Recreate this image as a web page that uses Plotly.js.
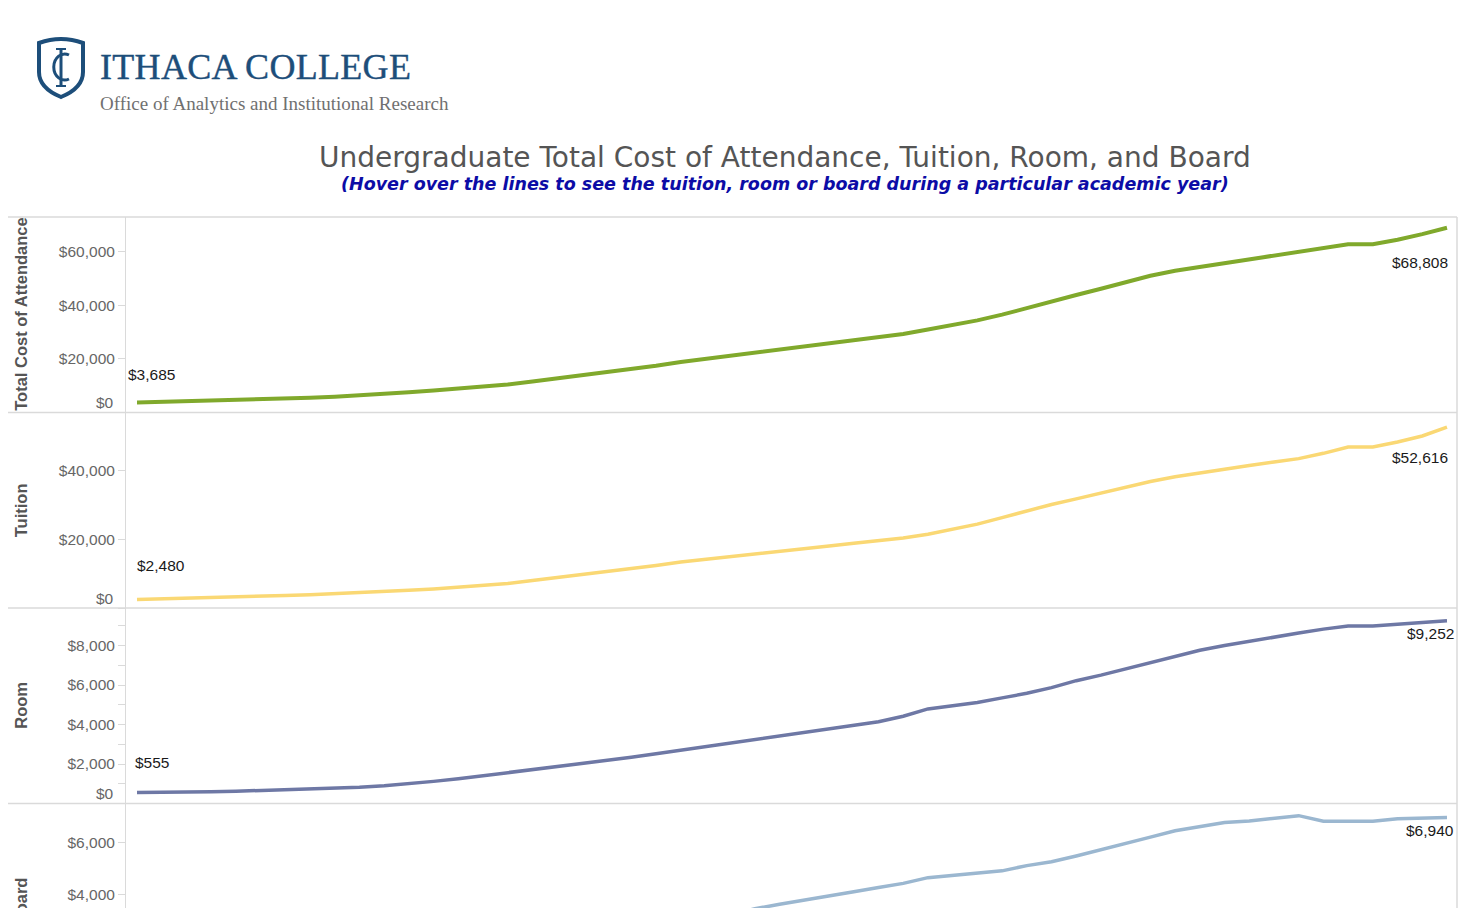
<!DOCTYPE html>
<html>
<head>
<meta charset="utf-8">
<script src="https://cdn.plot.ly/plotly-3.0.1.min.js"></script>
<style>
html, body { margin:0; padding:0; background:#fff; width:1472px; height:908px; overflow:hidden; }
#wrap { position:relative; width:1472px; height:908px; overflow:hidden; }
#chart { position:absolute; left:0; top:0; width:1472px; height:1000px; }
#logo { position:absolute; left:0; top:0; z-index:5; pointer-events:none; }
#logo .name { position:absolute; left:100px; top:46px; font-family:'Liberation Serif', 'DejaVu Serif', serif; font-size:36px; color:#1d4e7a; white-space:nowrap; letter-spacing:0.3px; -webkit-text-stroke:0.4px #1d4e7a; }
#logo .office { position:absolute; left:100px; top:93px; font-family:'Liberation Serif', 'DejaVu Serif', serif; font-size:19px; color:#707070; white-space:nowrap; }
</style>
</head>
<body>
<div id="wrap">
  <div id="chart"></div>
  <div id="logo">
    <svg width="54" height="64" viewBox="0 0 54 64" style="position:absolute;left:34px;top:36px">
      <path d="M5 7 Q27 -1 49 7 L49 36 Q49 52 27 61 Q5 52 5 36 Z" fill="#fff" stroke="#1d4e7a" stroke-width="4"/>
      <path d="M35 19 A11 13 0 1 0 35 43" fill="none" stroke="#1d4e7a" stroke-width="3"/>
      <line x1="27" y1="13" x2="27" y2="50" stroke="#1d4e7a" stroke-width="3"/>
      <line x1="22" y1="13" x2="32" y2="13" stroke="#1d4e7a" stroke-width="2"/>
      <line x1="22" y1="50" x2="32" y2="50" stroke="#1d4e7a" stroke-width="2"/>
    </svg>
    <div class="name">ITHACA COLLEGE</div>
    <div class="office">Office of Analytics and Institutional Research</div>
  </div>
</div>
<script>
'use strict';

// academic years (x categories)
const years = ['1971-72','1972-73','1973-74','1974-75','1975-76','1976-77','1977-78','1978-79','1979-80','1980-81',
  '1981-82','1982-83','1983-84','1984-85','1985-86','1986-87','1987-88','1988-89','1989-90','1990-91',
  '1991-92','1992-93','1993-94','1994-95','1995-96','1996-97','1997-98','1998-99','1999-00','2000-01',
  '2001-02','2002-03','2003-04','2004-05','2005-06','2006-07','2007-08','2008-09','2009-10','2010-11',
  '2011-12','2012-13','2013-14','2014-15','2015-16','2016-17','2017-18','2018-19','2019-20','2020-21',
  '2021-22','2022-23','2023-24','2024-25'];

const total = [3685,3900,4130,4360,4600,4880,5180,5520,5900,6330,
  6900,7500,8150,8850,9550,10390,11520,12650,13780,14900,
  16030,17390,18840,20000,21150,22310,23460,24610,25770,26920,
  28070,29230,30900,32600,34300,36430,38950,41420,43760,46070,
  48380,50940,52770,54220,55580,56980,58360,59730,61170,62670,
  62670,64350,66430,68808];

const tuition = [2480,2640,2810,2990,3190,3400,3630,3880,4150,4450,
  4780,5150,5550,6000,6480,7100,7980,8830,9680,10540,
  11370,12350,13380,14120,14860,15620,16420,17220,18040,18860,
  19670,20390,21470,22930,24400,26310,28210,30140,31750,33410,
  35240,36830,38210,39360,40440,41470,42500,43470,45020,46870,
  46870,48320,50060,52616];

const room = [555,560,590,590,620,660,690,720,760,820,
  900,1000,1120,1250,1400,1560,1720,1880,2040,2170,
  2340,2520,2700,2880,3060,3240,3420,3600,3780,3960,
  4140,4420,4790,4950,5110,5350,5580,5870,6220,6500,
  6820,7150,7480,7760,8000,8220,8410,8630,8830,8990,
  8990,9080,9170,9252];

const board = [650,700,730,760,800,850,900,960,1030,1100,
  1190,1280,1380,1480,1590,1700,1820,1940,2060,2190,
  2320,2520,2760,3000,3230,3450,3620,3790,3950,4100,
  4260,4420,4640,4720,4800,4900,5100,5250,5470,5720,
  5960,6190,6430,6580,6750,6810,6910,7010,6800,6800,
  6800,6890,6900,6940];

const panels = [
  {name:'Total Cost of Attendance', values:total, color:'#80a92c', width:4, ticks:[0,20000,40000,60000], range:[0,72800], minor:null, startShift:[-11,28], endShift:[3,-35]},
  {name:'Tuition', values:tuition, color:'#fad874', width:3.5, ticks:[0,20000,40000], range:[0,56900], minor:null, startShift:[-2,34], endShift:[3,-30]},
  {name:'Room', values:room, color:'#6e78a5', width:3.5, ticks:[0,2000,4000,6000,8000], range:[0,9900], minor:[1000,3000,5000,7000,9000], startShift:[-4,30], endShift:[9,-13]},
  {name:'Board', values:board, color:'#9bb7d0', width:3.5, ticks:[0,2000,4000,6000], range:[0,7475], minor:null, startShift:[-4,30], endShift:[9,-13]}
];

// plot area in pixels
const PL = 126, PW = 1331, PT = 217, PH = 782;
function fx(px){ return (px - PL) / PW; }
function fy(py){ return (PT + PH - py) / PH; }

function money(v){ return '$' + v.toLocaleString('en-US'); }

const gridc = '#dadada';
const traces = [];
const annotations = [];
const shapes = [];
const layout = {
  width: 1472, height: 1000,
  margin: {l: PL, r: 1472 - PL - PW, t: PT, b: 1000 - PT - PH, autoexpand: false},
  paper_bgcolor: '#fff', plot_bgcolor: '#fff',
  showlegend: false,
  font: {family: 'Liberation Sans, Arial, sans-serif', size: 15, color: '#666'},
  hovermode: 'closest',
  xaxis: {type: 'category', range: [-0.445, years.length - 1 + 0.405], visible: false, fixedrange: true}
};

panels.forEach(function(p, i){
  const ax = i === 0 ? 'y' : 'y' + (i + 1);
  const axKey = i === 0 ? 'yaxis' : 'yaxis' + (i + 1);
  const top = 1 - i * 0.25;
  traces.push({
    x: years, y: p.values, type: 'scatter', mode: 'lines', name: p.name,
    yaxis: ax, line: {color: p.color, width: p.width, shape: 'linear'},
    hovertemplate: '%{x}<br>' + p.name + ': $%{y:,}<extra></extra>'
  });
  layout[axKey] = {
    domain: [top - 0.25, top], range: p.range, fixedrange: true,
    tickmode: 'array', tickvals: p.ticks,
    ticktext: p.ticks.map(function(v){ return v === 0 ? '' : money(v); }),
    ticks: 'outside', ticklen: 7, tickcolor: gridc, tickwidth: 1,
    tickfont: {size: 15.5, color: '#666'},
    showgrid: false, zeroline: false,
    showline: true, linecolor: gridc, linewidth: 1
  };
  if (p.minor) {
    layout[axKey].minor = {tickmode: 'array', tickvals: p.minor, ticks: 'outside', ticklen: 7, tickcolor: gridc, showgrid: false};
  }
  // $0 label sits above the panel floor
  annotations.push({xref: 'paper', yref: ax, x: fx(116), y: 0, xanchor: 'right', yanchor: 'middle', yshift: 10,
    text: '$0', showarrow: false, font: {size: 15.5, color: '#666'}});
  // axis title
  annotations.push({xref: 'paper', yref: 'paper', x: fx(21), y: top - 0.125, xanchor: 'center', yanchor: 'middle',
    text: '<b>' + p.name + '</b>', textangle: -90, showarrow: false, font: {size: 16.5, color: '#555'}});
  // first and last value labels
  const n = p.values.length - 1;
  annotations.push({xref: 'x', yref: ax, x: years[0], y: p.values[0], xanchor: 'left', yanchor: 'middle',
    xshift: p.startShift[0], yshift: p.startShift[1], text: money(p.values[0]), showarrow: false,
    font: {size: 15.5, color: '#1a1a1a'}});
  annotations.push({xref: 'x', yref: ax, x: years[n], y: p.values[n], xanchor: 'right', yanchor: 'middle',
    xshift: p.endShift[0], yshift: p.endShift[1], text: money(p.values[n]), showarrow: false,
    font: {size: 15.5, color: '#1a1a1a'}});
  // panel separator
  shapes.push({type: 'line', xref: 'paper', yref: 'paper', x0: fx(8), x1: 1, y0: top, y1: top,
    line: {color: gridc, width: 1.5}});
});

// right border
shapes.push({type: 'line', xref: 'paper', yref: 'paper', x0: 1, x1: 1, y0: 0, y1: 1, line: {color: gridc, width: 1.5}});

annotations.push({xref: 'paper', yref: 'paper', x: fx(785), y: fy(157), xanchor: 'center', yanchor: 'middle',
  text: 'Undergraduate Total Cost of Attendance, Tuition, Room, and Board', showarrow: false,
  font: {family: 'DejaVu Sans, Verdana, sans-serif', size: 28, color: '#555'}});
annotations.push({xref: 'paper', yref: 'paper', x: fx(785), y: fy(184), xanchor: 'center', yanchor: 'middle',
  text: '<b><i>(Hover over the lines to see the tuition, room or board during a particular academic year)</i></b>', showarrow: false,
  font: {family: 'DejaVu Sans, Verdana, sans-serif', size: 17.5, color: '#0c0ca6'}});

layout.annotations = annotations;
layout.shapes = shapes;

Plotly.newPlot('chart', traces, layout, {displayModeBar: false, responsive: false});
</script>
</body>
</html>
